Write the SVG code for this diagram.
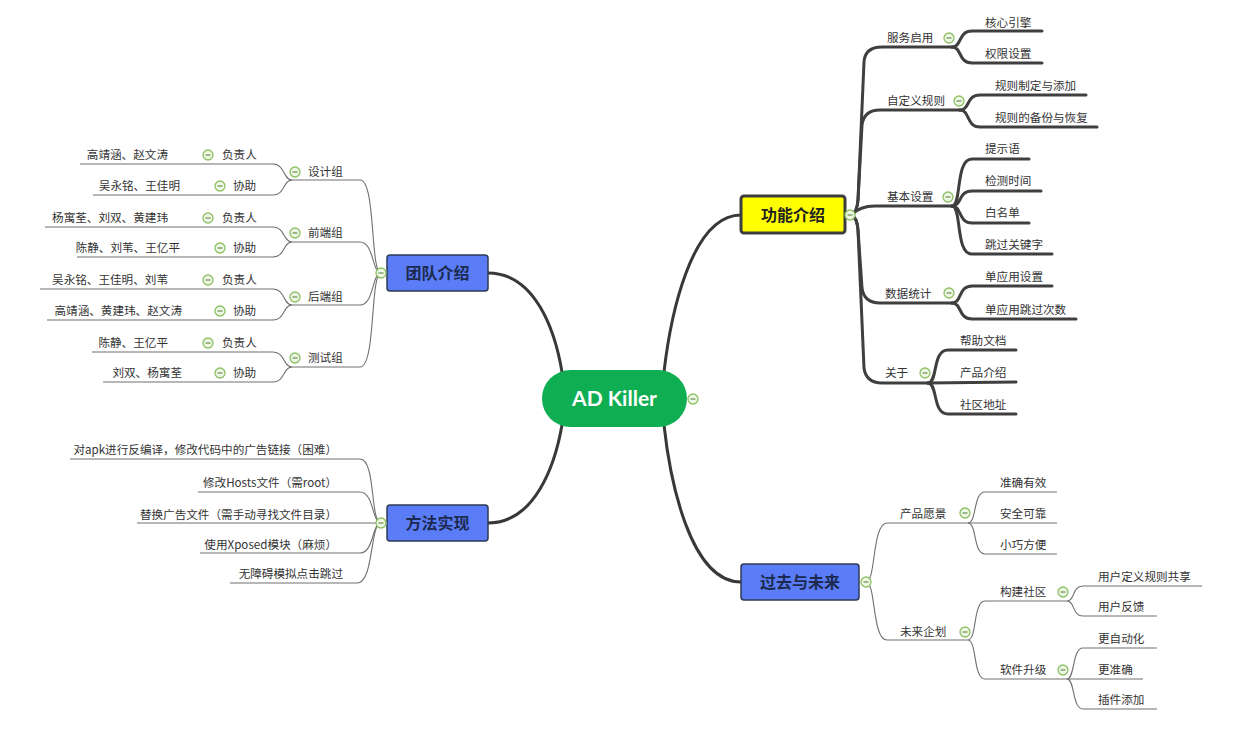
<svg xmlns="http://www.w3.org/2000/svg" width="1235" height="733" viewBox="0 0 1235 733">
<defs>
<style>
.t{font-family:"Noto Sans CJK SC","Liberation Sans",sans-serif;font-size:11.6px;fill:#333}
.tk{fill:none;stroke:#3f3f3f;stroke-width:3;stroke-linecap:round}
.tn{fill:none;stroke:#707070;stroke-width:1.1}
.mc{fill:none;stroke:#383838;stroke-width:3;stroke-linecap:round}
.mt{font-family:"Noto Sans CJK SC","Liberation Sans",sans-serif;font-size:16px;font-weight:bold;text-anchor:middle}
.cb circle{fill:#eef6e6;stroke:#8cc063;stroke-width:1.3}
.cb line{stroke:#6a8f4a;stroke-width:1.2}
</style>
<g id="cbtn" class="cb"><circle cx="0" cy="0" r="5"/><line x1="-2.5" y1="0" x2="2.5" y2="0"/></g>
</defs>
<rect width="1235" height="733" fill="#ffffff"/>

<g id="connectors">
<path class="mc" d="M488,273 C535,273 555,330 562,372"/>
<path class="mc" d="M488,523 C535,523 555,465 562,425"/>
<path class="mc" d="M741,215 C690,215 670,320 664,372"/>
<path class="mc" d="M741,582 C690,582 670,480 664,425"/>

<path class="tk" d="M851,215 Q857,213 858,200 L864,62 Q865,47 882,47 L952,47"/>
<path class="tk" d="M851,215 Q857,213 858,200 L862,125 Q864,110 880,110 L960,110"/>
<path class="tk" d="M851,215 Q860,206 875,206 L952,206"/>
<path class="tk" d="M851,215 Q857,217 858,230 L862,288 Q864,303 880,303 L952,303"/>
<path class="tk" d="M851,215 Q857,217 858,230 L864,368 Q866,383 882,383 L928,383"/>

<path class="tk" d="M952,47 C962,47 958,31 972,31 L1042,31"/>
<path class="tk" d="M952,47 C962,47 958,63 972,63 L1042,63"/>
<path class="tk" d="M960,110 C970,110 966,95 980,95 L1086,95"/>
<path class="tk" d="M960,110 C970,110 966,127 980,127 L1097,127"/>
<path class="tk" d="M952,206 C962,206 955,159 972,159 L1029,159"/>
<path class="tk" d="M952,206 C962,206 958,191 972,191 L1041,191"/>
<path class="tk" d="M952,206 C962,206 958,223 972,223 L1029,223"/>
<path class="tk" d="M952,206 C962,206 955,254 972,254 L1052,254"/>
<path class="tk" d="M952,303 C962,303 958,286 972,286 L1052,286"/>
<path class="tk" d="M952,303 C962,303 958,319 972,319 L1076,319"/>
<path class="tk" d="M928,383 C938,383 932,350 948,350 L1016,350"/>
<path class="tk" d="M928,383 L1016,382"/>
<path class="tk" d="M928,383 C938,383 932,414 948,414 L1016,414"/>

<path class="tn" d="M381,273 C370,273 376,180 360,180 L292,180"/>
<path class="tn" d="M381,273 C372,273 374,242 360,242 L292,242"/>
<path class="tn" d="M381,273 C372,273 374,305 360,305 L292,305"/>
<path class="tn" d="M381,273 C370,273 376,367 360,367 L292,367"/>

<path class="tn" d="M292,180 C283,180 285,164 273,164 L80,164"/>
<path class="tn" d="M292,180 C283,180 285,195 273,195 L93,195"/>
<path class="tn" d="M292,242 C283,242 285,227 273,227 L45,227"/>
<path class="tn" d="M292,242 C283,242 285,257 273,257 L77,257"/>
<path class="tn" d="M292,305 C283,305 285,289 273,289 L40,289"/>
<path class="tn" d="M292,305 C283,305 285,320 273,320 L47,320"/>
<path class="tn" d="M292,367 C283,367 285,352 273,352 L92,352"/>
<path class="tn" d="M292,367 C283,367 285,382 273,382 L103,382"/>

<path class="tn" d="M381,523 C370,523 376,459 360,459 L70,459"/>
<path class="tn" d="M381,523 C372,523 374,492 360,492 L198,492"/>
<path class="tn" d="M381,523 L137,523"/>
<path class="tn" d="M381,523 C372,523 374,553 360,553 L200,553"/>
<path class="tn" d="M381,523 C370,523 374,583 357,583 L230,583"/>

<path class="tn" d="M866,582 C876,582 872,523 887,523 L968,523"/>
<path class="tn" d="M866,582 C876,582 872,640 887,640 L968,640"/>
<path class="tn" d="M968,523 C977,523 973,492 985,492 L1057,492"/>
<path class="tn" d="M968,523 L1057,523"/>
<path class="tn" d="M968,523 C977,523 973,554 985,554 L1057,554"/>
<path class="tn" d="M968,640 C977,640 973,601 985,601 L1067,601"/>
<path class="tn" d="M968,640 C977,640 973,679 985,679 L1067,679"/>
<path class="tn" d="M1067,601 C1075,601 1072,586 1083,586 L1202,586"/>
<path class="tn" d="M1067,601 C1075,601 1072,616 1083,616 L1157,616"/>
<path class="tn" d="M1067,679 C1075,679 1072,648 1083,648 L1157,648"/>
<path class="tn" d="M1067,679 L1143,679"/>
<path class="tn" d="M1067,679 C1075,679 1072,709 1083,709 L1157,709"/>
</g>

<g id="center">
<rect x="542" y="370" width="145" height="57" rx="28.5" fill="#0fae52"/>
<text x="614.5" y="406" text-anchor="middle" font-family="Lato,'Liberation Sans',sans-serif" font-size="21" font-weight="bold" fill="#ffffff">AD Killer</text>
<use href="#cbtn" x="693" y="399"/>
</g>

<g id="team">
<rect x="387" y="255" width="101" height="36" rx="3" fill="#5a7cf6" stroke="#2f3a55" stroke-width="1.5"/>
<text class="mt" x="437.5" y="279" fill="#1c2a50">团队介绍</text>
<use href="#cbtn" x="381" y="273"/>
</g>

<g id="method">
<rect x="387" y="505" width="101" height="36" rx="3" fill="#5a7cf6" stroke="#2f3a55" stroke-width="1.5"/>
<text class="mt" x="437.5" y="529" fill="#1c2a50">方法实现</text>
<use href="#cbtn" x="381" y="523"/>
</g>

<g id="feature">
<rect x="741" y="196" width="104" height="37" rx="3" fill="#ffff00" stroke="#3d3d3d" stroke-width="3"/>
<text class="mt" x="793" y="221" fill="#222">功能介绍</text>
<use href="#cbtn" x="850" y="215"/>
</g>

<g id="future">
<rect x="741" y="564" width="118" height="36" rx="3" fill="#5a7cf6" stroke="#2f3a55" stroke-width="1.5"/>
<text class="mt" x="800" y="588" fill="#1c2a50">过去与未来</text>
<use href="#cbtn" x="866" y="582"/>
</g>

<g id="feature-children">
<g id="n-fwqy"><text class="t" x="887" y="42">服务启用</text><use href="#cbtn" x="949" y="38"/></g>
<g id="n-hxyq"><text class="t" x="985" y="27">核心引擎</text></g>
<g id="n-qxsz"><text class="t" x="985" y="58">权限设置</text></g>
<g id="n-zdygz"><text class="t" x="887" y="105">自定义规则</text><use href="#cbtn" x="959" y="101"/></g>
<g id="n-gzzd"><text class="t" x="995" y="90">规则制定与添加</text></g>
<g id="n-gzbf"><text class="t" x="995" y="122">规则的备份与恢复</text></g>
<g id="n-jbsz"><text class="t" x="887" y="201">基本设置</text><use href="#cbtn" x="948" y="197"/></g>
<g id="n-tsy"><text class="t" x="985" y="153">提示语</text></g>
<g id="n-jcsj"><text class="t" x="985" y="185">检测时间</text></g>
<g id="n-bmd"><text class="t" x="985" y="217">白名单</text></g>
<g id="n-tggjz"><text class="t" x="985" y="249">跳过关键字</text></g>
<g id="n-sjtj"><text class="t" x="885" y="298">数据统计</text><use href="#cbtn" x="949" y="293"/></g>
<g id="n-dyysz"><text class="t" x="985" y="281">单应用设置</text></g>
<g id="n-dyytg"><text class="t" x="985" y="314">单应用跳过次数</text></g>
<g id="n-gy"><text class="t" x="885" y="377">关于</text><use href="#cbtn" x="925" y="373"/></g>
<g id="n-bzwd"><text class="t" x="960" y="345">帮助文档</text></g>
<g id="n-cpjs"><text class="t" x="960" y="377">产品介绍</text></g>
<g id="n-sqdz"><text class="t" x="960" y="409">社区地址</text></g>
</g>

<g id="team-children">
<g id="n-sjz"><text class="t" x="308" y="176">设计组</text><use href="#cbtn" x="295" y="172"/></g>
<g id="n-sj-fzr"><text class="t" x="222" y="159">负责人</text><use href="#cbtn" x="208" y="155"/></g>
<g id="n-sj-fzr-n"><text class="t" x="168" y="159" text-anchor="end">高靖涵、赵文涛</text></g>
<g id="n-sj-xz"><text class="t" x="233" y="190">协助</text><use href="#cbtn" x="220" y="186"/></g>
<g id="n-sj-xz-n"><text class="t" x="180" y="190" text-anchor="end">吴永铭、王佳明</text></g>

<g id="n-qdz"><text class="t" x="308" y="237">前端组</text><use href="#cbtn" x="295" y="233"/></g>
<g id="n-qd-fzr"><text class="t" x="222" y="222">负责人</text><use href="#cbtn" x="208" y="218"/></g>
<g id="n-qd-fzr-n"><text class="t" x="168" y="222" text-anchor="end">杨寓荃、刘双、黄建玮</text></g>
<g id="n-qd-xz"><text class="t" x="233" y="252">协助</text><use href="#cbtn" x="220" y="248"/></g>
<g id="n-qd-xz-n"><text class="t" x="180" y="252" text-anchor="end">陈静、刘苇、王亿平</text></g>

<g id="n-hdz"><text class="t" x="308" y="301">后端组</text><use href="#cbtn" x="295" y="297"/></g>
<g id="n-hd-fzr"><text class="t" x="222" y="284">负责人</text><use href="#cbtn" x="208" y="280"/></g>
<g id="n-hd-fzr-n"><text class="t" x="168" y="284" text-anchor="end">吴永铭、王佳明、刘苇</text></g>
<g id="n-hd-xz"><text class="t" x="233" y="315">协助</text><use href="#cbtn" x="220" y="311"/></g>
<g id="n-hd-xz-n"><text class="t" x="182" y="315" text-anchor="end">高靖涵、黄建玮、赵文涛</text></g>

<g id="n-csz"><text class="t" x="308" y="362">测试组</text><use href="#cbtn" x="295" y="358"/></g>
<g id="n-cs-fzr"><text class="t" x="222" y="347">负责人</text><use href="#cbtn" x="208" y="343"/></g>
<g id="n-cs-fzr-n"><text class="t" x="168" y="347" text-anchor="end">陈静、王亿平</text></g>
<g id="n-cs-xz"><text class="t" x="233" y="377">协助</text><use href="#cbtn" x="220" y="373"/></g>
<g id="n-cs-xz-n"><text class="t" x="182" y="377" text-anchor="end">刘双、杨寓荃</text></g>
</g>

<g id="method-children">
<g id="n-m1"><text class="t" x="337" y="454" text-anchor="end">对apk进行反编译，修改代码中的广告链接（困难）</text></g>
<g id="n-m2"><text class="t" x="337" y="487" text-anchor="end">修改Hosts文件（需root）</text></g>
<g id="n-m3"><text class="t" x="337" y="519" text-anchor="end">替换广告文件（需手动寻找文件目录）</text></g>
<g id="n-m4"><text class="t" x="337" y="549" text-anchor="end">使用Xposed模块（麻烦）</text></g>
<g id="n-m5"><text class="t" x="343" y="578" text-anchor="end">无障碍模拟点击跳过</text></g>
</g>

<g id="future-children">
<g id="n-cpyj"><text class="t" x="900" y="518">产品愿景</text><use href="#cbtn" x="965" y="513"/></g>
<g id="n-zqyx"><text class="t" x="1000" y="487">准确有效</text></g>
<g id="n-aqkk"><text class="t" x="1000" y="518">安全可靠</text></g>
<g id="n-xqfb"><text class="t" x="1000" y="549">小巧方便</text></g>
<g id="n-wlqh"><text class="t" x="900" y="636">未来企划</text><use href="#cbtn" x="965" y="632"/></g>
<g id="n-gjsq"><text class="t" x="1000" y="596">构建社区</text><use href="#cbtn" x="1063" y="592"/></g>
<g id="n-yhdy"><text class="t" x="1098" y="581">用户定义规则共享</text></g>
<g id="n-yhfk"><text class="t" x="1098" y="611">用户反馈</text></g>
<g id="n-rjsj"><text class="t" x="1000" y="674">软件升级</text><use href="#cbtn" x="1063" y="670"/></g>
<g id="n-gzdh"><text class="t" x="1098" y="643">更自动化</text></g>
<g id="n-gzq"><text class="t" x="1098" y="674">更准确</text></g>
<g id="n-cjtj"><text class="t" x="1098" y="704">插件添加</text></g>
</g>
</svg>
